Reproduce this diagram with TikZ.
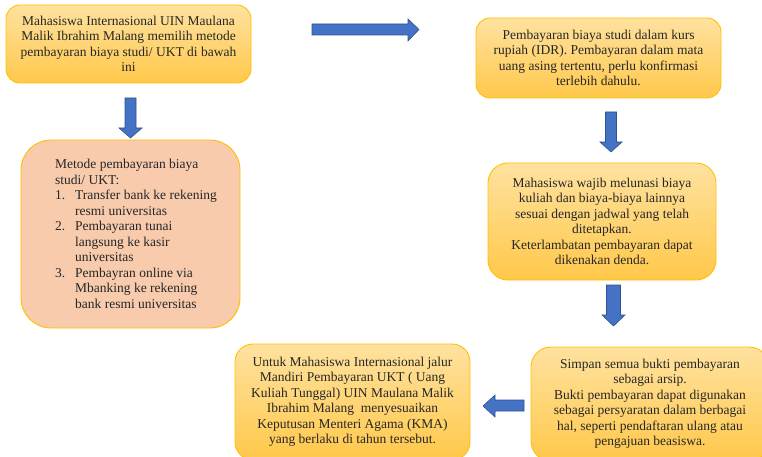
\documentclass[tikz,border=0pt]{standalone}
\usepackage{fontspec}
\setmainfont{Liberation Serif}
\definecolor{boxline}{HTML}{FFC000}
\definecolor{boxtop}{HTML}{FFE2A0}
\definecolor{boxbot}{HTML}{FFC84A}
\definecolor{peach}{HTML}{F8CBAD}
\definecolor{arrfill}{HTML}{4472C4}
\definecolor{arrline}{HTML}{2F528F}
\definecolor{txt}{HTML}{262626}
\begin{document}
\begin{tikzpicture}[x=1pt,y=-1pt,
  box/.style={draw=boxline, line width=0.9pt, rounded corners=14pt,
    top color=boxtop, bottom color=boxbot, align=center, text=txt,
    font=\fontsize{13.5}{15.5}\selectfont, inner sep=0pt},
  barrow/.style={fill=arrfill, draw=arrline, line width=0.6pt}]
\useasboundingbox (0,0) rectangle (762,457);
\clip (0,0) rectangle (762,457);

\node[box, minimum width=245pt, minimum height=78pt] (b1) at (128.5,44)
 {Mahasiswa Internasional UIN Maulana\\ Malik Ibrahim Malang memilih metode\\ pembayaran biaya studi/ UKT di bawah\\ ini};

\node[box, rounded corners=30pt, top color=peach, bottom color=peach,
  minimum width=219pt, minimum height=188pt] (b2) at (130.5,234) {};
\node[text=txt, font=\fontsize{13.5}{15.5}\selectfont, align=left, inner sep=0pt,
  anchor=west] (t2) at (55,234)
 {Metode pembayaran biaya\\ studi/ UKT:\\
  \makebox[20pt][l]{1.}Transfer bank ke rekening\\
  \hspace*{20pt}resmi universitas\\
  \makebox[20pt][l]{2.}Pembayaran tunai\\
  \hspace*{20pt}langsung ke kasir\\
  \hspace*{20pt}universitas\\
  \makebox[20pt][l]{3.}Pembayran online via\\
  \hspace*{20pt}Mbanking ke rekening\\
  \hspace*{20pt}bank resmi universitas};

\node[box, minimum width=245pt, minimum height=80pt] (b3) at (598.5,58)
 {Pembayaran biaya studi dalam kurs\\ rupiah (IDR). Pembayaran dalam mata\\ uang asing tertentu, perlu konfirmasi\\ terlebih dahulu.};

\node[box, rounded corners=20pt, minimum width=228pt, minimum height=117pt] (b4) at (602,221.5)
 {Mahasiswa wajib melunasi biaya\\ kuliah dan biaya-biaya lainnya\\ sesuai dengan jadwal yang telah\\ ditetapkan.\\ Keterlambatan pembayaran dapat\\ dikenakan denda.};

\node[box, rounded corners=20pt, minimum width=238pt, minimum height=114pt] (b5) at (650,404)
 {Simpan semua bukti pembayaran\\ sebagai arsip.\\ Bukti pembayaran dapat digunakan\\ sebagai persyaratan dalam berbagai\\ hal, seperti pendaftaran ulang atau\\ pengajuan beasiswa.};

\node[box, rounded corners=18pt, minimum width=235pt, minimum height=116pt] (b6) at (352.5,402)
 {Untuk Mahasiswa Internasional jalur\\ Mandiri Pembayaran UKT ( Uang\\ Kuliah Tunggal) UIN Maulana Malik\\ Ibrahim Malang\ \ menyesuaikan\\ Keputusan Menteri Agama (KMA)\\ yang berlaku di tahun tersebut.};

% block arrows
\draw[barrow] (125,98) -- (136,98) -- (136,128) -- (142,128) -- (130.5,138) -- (119,128) -- (125,128) -- cycle;
\draw[barrow] (312,24) -- (408,24) -- (408,19) -- (419,29.5) -- (408,41) -- (408,35) -- (312,35) -- cycle;
\draw[barrow] (605.5,112) -- (616.5,112) -- (616.5,142) -- (622,142) -- (611,152) -- (600,142) -- (605.5,142) -- cycle;
\draw[barrow] (606.5,285) -- (620.5,285) -- (620.5,315) -- (625,315) -- (613.5,326) -- (602,315) -- (606.5,315) -- cycle;
\draw[barrow] (524,400) -- (495,400) -- (495,395) -- (483,406) -- (495,417) -- (495,411) -- (524,411) -- cycle;
\end{tikzpicture}
\end{document}
